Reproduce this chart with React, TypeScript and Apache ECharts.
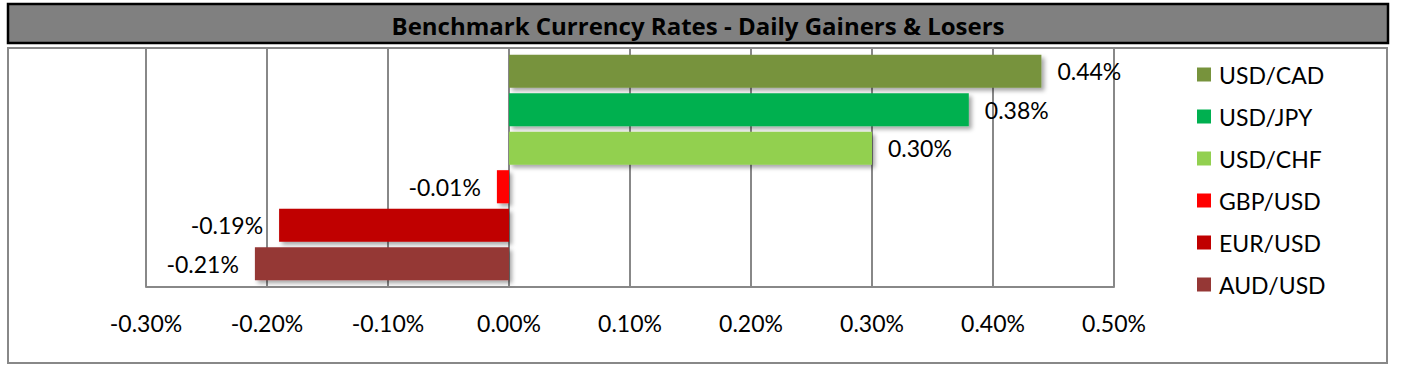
import React, { useEffect, useRef } from "react";
import * as echarts from "echarts";

const categories = ["USD/CAD", "USD/JPY", "USD/CHF", "GBP/USD", "EUR/USD", "AUD/USD"];
const values = [0.44, 0.38, 0.3, -0.01, -0.19, -0.21];
const colors = ["#77933C", "#00B050", "#92D050", "#FF0000", "#C00000", "#953735"];
const xMin = -0.3;
const xMax = 0.5;
const xStep = 0.1;
const titleText = "Benchmark Currency Rates - Daily Gainers & Losers";

const FONT = "Lato, 'Open Sans', sans-serif";
const TITLE_FONT = "'Open Sans', 'Noto Sans', sans-serif";

export default function App() {
  const ref = useRef<HTMLDivElement>(null);
  useEffect(() => {
    if (!ref.current) return;
    const chart = echarts.init(ref.current, null, { renderer: "svg" });
    const fmt = (v: number) => (Math.abs(v) < 1e-9 ? 0 : v).toFixed(2) + "%";
    const series = categories.map((name, i) => ({
      name,
      type: "bar",
      stack: "all",
      xAxisIndex: 1,
      yAxisIndex: 1,
      barWidth: "86%",
      data: categories.map((_, j) => (j === i ? values[i] : null)),
      itemStyle: {
        color: colors[i],
        shadowBlur: 4,
        shadowOffsetX: 3,
        shadowOffsetY: 3,
        shadowColor: "rgba(0,0,0,0.35)",
      },
      label: {
        show: true,
        position: values[i] >= 0 ? "right" : "left",
        distance: 16,
        fontSize: 23,
        fontFamily: FONT,
        color: "#000",
        formatter: (p: any) => fmt(p.value),
      },
    }));
    chart.setOption({
      animation: false,
      backgroundColor: "#fff",
      textStyle: { fontFamily: FONT },
      grid: [
        { left: 146, right: 1413 - 1114, top: 48, bottom: 374 - 287 },
        { left: 146, right: 1413 - 1114, top: 52, bottom: 374 - 283 },
      ],
      xAxis: [
        {
          type: "value",
          gridIndex: 0,
          min: xMin,
          max: xMax,
          interval: xStep,
          axisLine: { show: true, lineStyle: { color: "#888", width: 2 } },
          axisTick: { show: false },
          splitLine: { show: true, lineStyle: { color: "#888", width: 2 } },
          axisLabel: {
            fontSize: 23,
            color: "#000",
            margin: 24,
            fontFamily: FONT,
            formatter: (v: number) => fmt(v),
          },
        },
        {
          type: "value",
          gridIndex: 1,
          min: xMin,
          max: xMax,
          interval: xStep,
          show: false,
          splitLine: { show: false },
        },
      ],
      yAxis: [
        {
          type: "category",
          gridIndex: 0,
          data: categories,
          show: false,
        },
        {
          type: "category",
          gridIndex: 1,
          inverse: true,
          data: categories,
          axisLine: { show: false },
          axisTick: { show: false },
          axisLabel: { show: false },
          splitLine: { show: false },
        },
      ],
      legend: {
        orient: "vertical",
        left: 1197,
        top: 63,
        padding: 0,
        icon: "rect",
        itemWidth: 14,
        itemHeight: 14,
        itemGap: 19,
        data: categories,
        textStyle: { fontSize: 23, color: "#000", fontFamily: FONT, padding: [0, 0, 0, 3] },
      },
      graphic: [
        {
          type: "rect",
          z: -10,
          shape: { x: 8, y: 48, width: 1379, height: 315 },
          style: { fill: "none", stroke: "#888", lineWidth: 2 },
        },
        {
          type: "rect",
          shape: { x: 8, y: 4, width: 1380, height: 39 },
          style: { fill: "#808080", stroke: "#000", lineWidth: 2.5 },
        },
        {
          type: "text",
          x: 698,
          y: 25,
          style: {
            text: titleText,
            fill: "#000",
            font: "bold 24px " + TITLE_FONT,
            align: "center",
            verticalAlign: "middle",
          },
        },
      ],
      series,
    });
    return () => chart.dispose();
  }, []);
  return (
    <div
      ref={ref}
      style={{ position: "absolute", left: 0, top: 0, width: 1413, height: 374 }}
    />
  );
}
